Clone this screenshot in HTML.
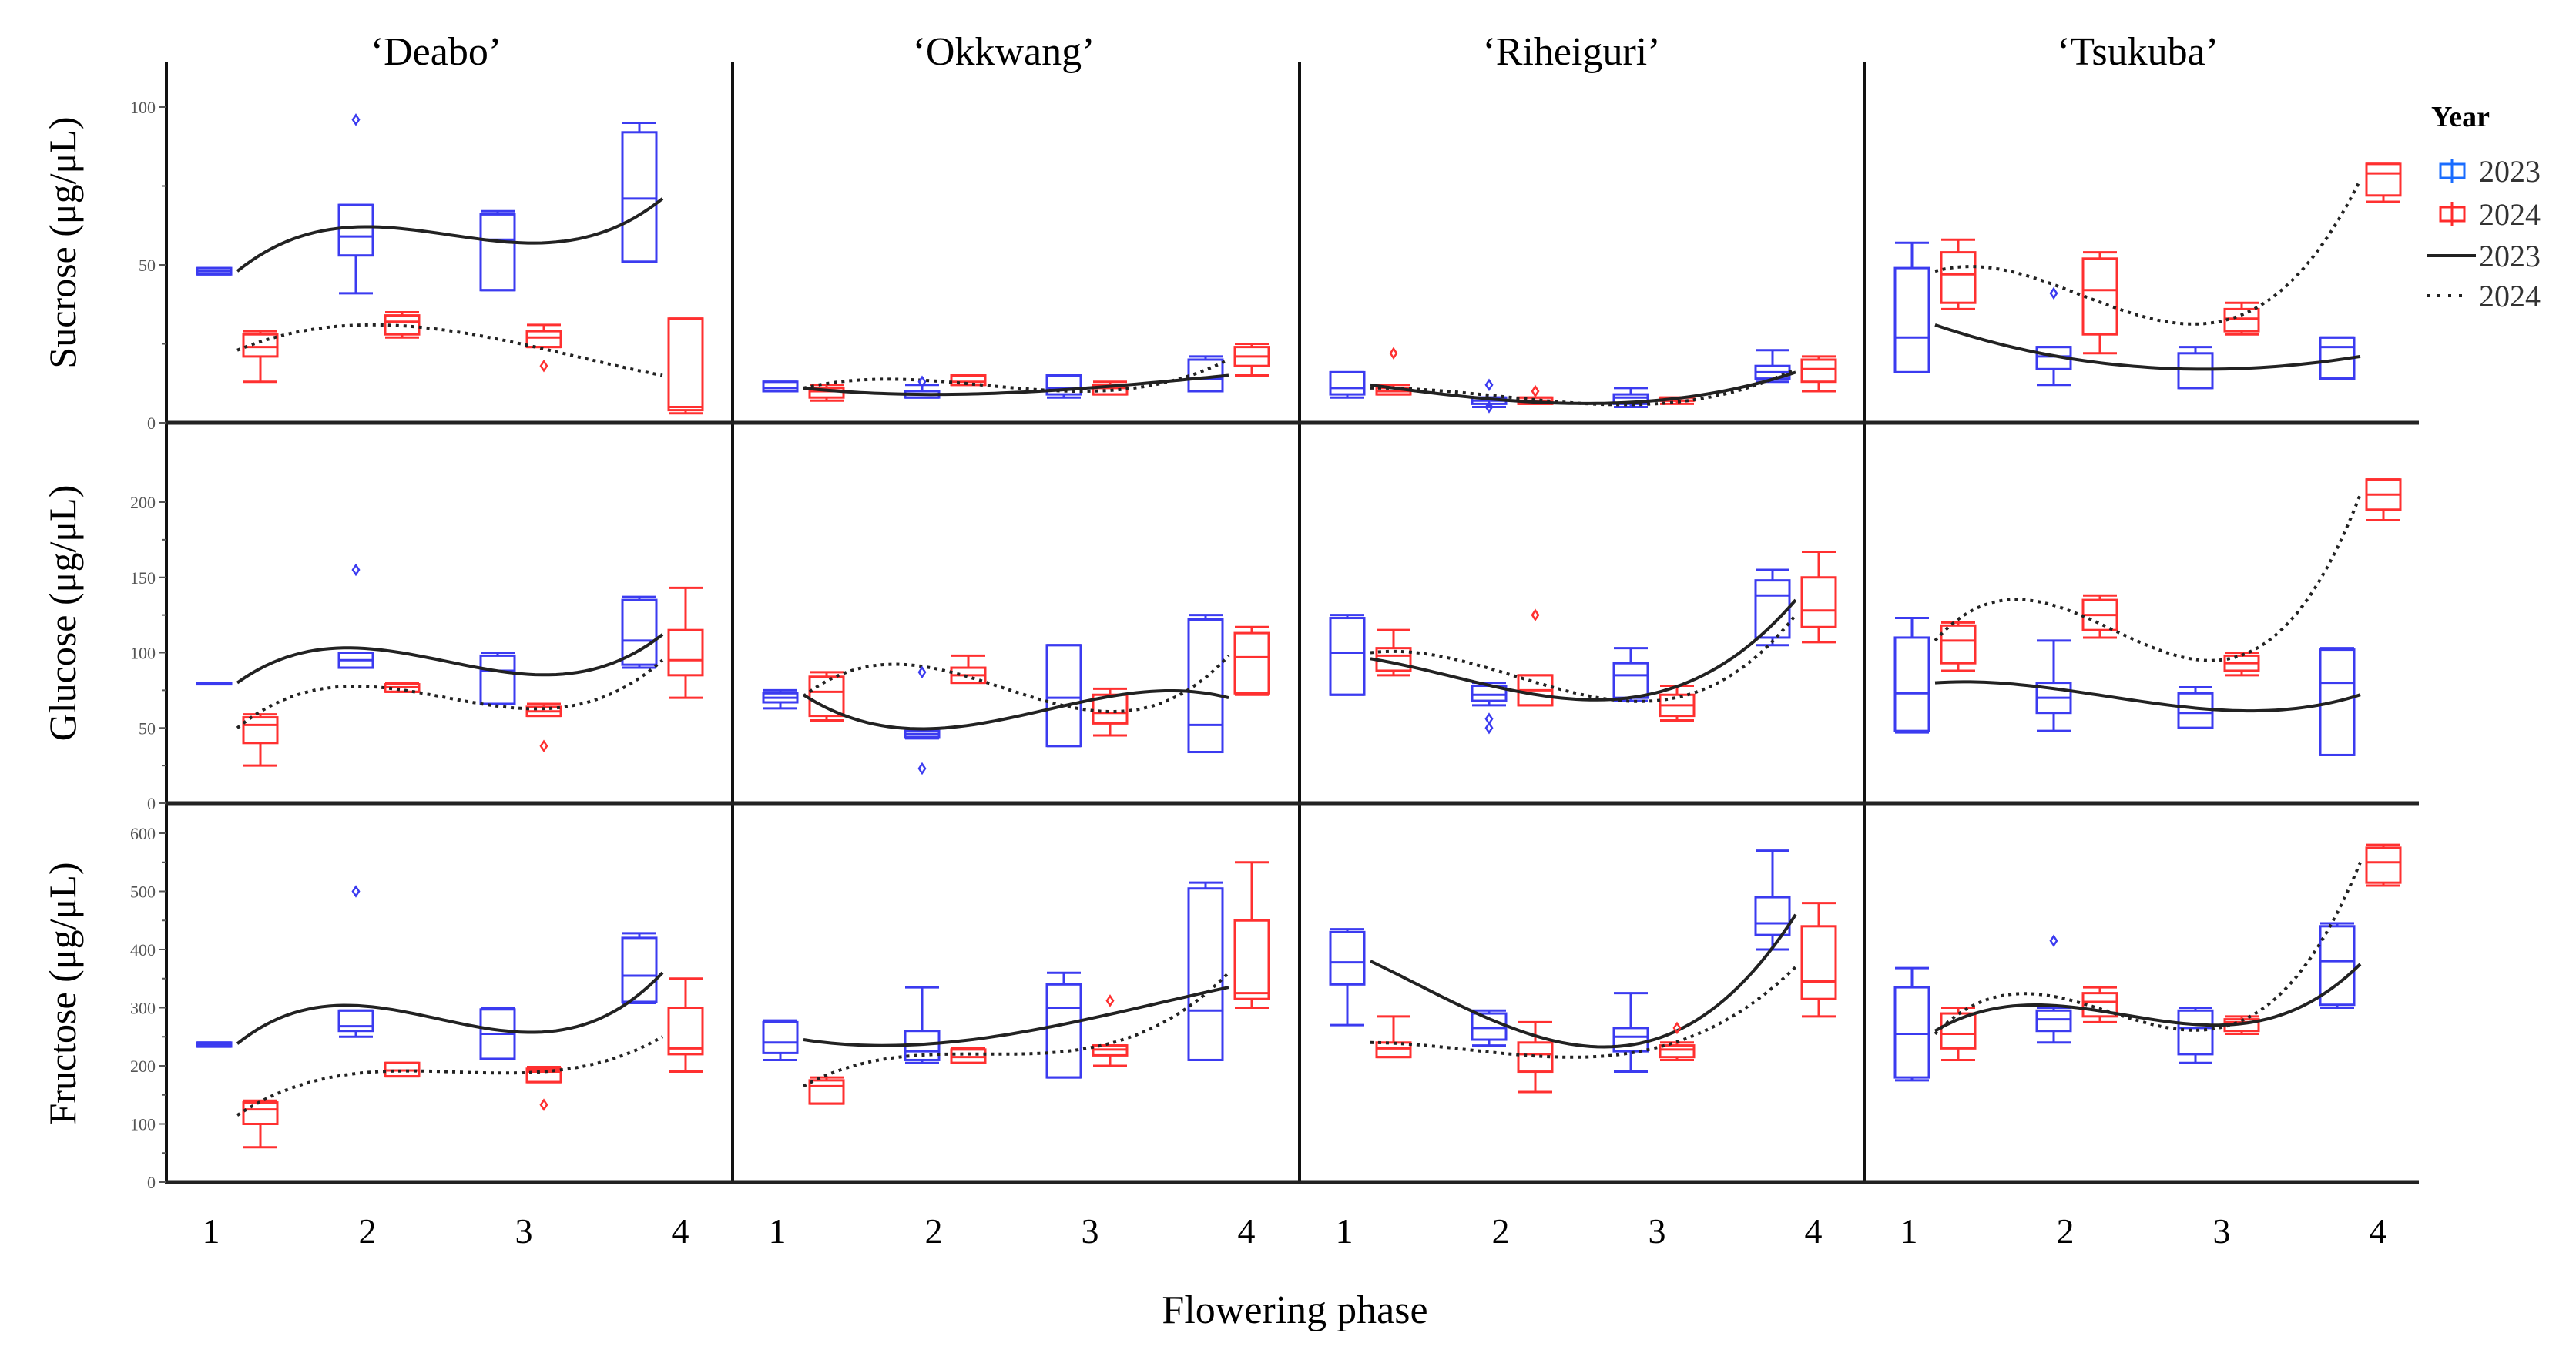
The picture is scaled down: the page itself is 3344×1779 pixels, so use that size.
<!DOCTYPE html>
<html><head><meta charset="utf-8"><style>
html,body{margin:0;padding:0;background:#fff;}
svg{display:block;font-family:"Liberation Serif",serif;}
</style></head><body>
<svg id="chart" width="3344" height="1779" viewBox="0 0 3344 1779" xmlns="http://www.w3.org/2000/svg">
<rect width="3344" height="1779" fill="#fff"/>
<g id="frame"></g>
<g id="marks"></g>
<text x="566" y="84" font-size="52" text-anchor="middle">‘Deabo’</text>
<text x="1303" y="84" font-size="52" text-anchor="middle">‘Okkwang’</text>
<text x="2040" y="84" font-size="52" text-anchor="middle">‘Riheiguri’</text>
<text x="2775" y="84" font-size="52" text-anchor="middle">‘Tsukuba’</text>
<text transform="translate(98,315) rotate(-90)" font-size="50" text-anchor="middle">Sucrose (μg/μL)</text>
<text transform="translate(98,796) rotate(-90)" font-size="50" text-anchor="middle">Glucose (μg/μL)</text>
<text transform="translate(98,1290) rotate(-90)" font-size="50" text-anchor="middle">Fructose (μg/μL)</text>
<text x="1681" y="1718" font-size="52" text-anchor="middle">Flowering phase</text>
<g>
<text x="3156" y="164" font-size="38" font-weight="bold">Year</text>
<g><line x1="3183" y1="206" x2="3183" y2="238" stroke="#1a6cff" stroke-width="3"/><rect x="3168" y="213" width="31" height="18" fill="none" stroke="#1a6cff" stroke-width="3"/><text x="3218" y="236" font-size="40" fill="#333">2023</text></g>
<g><line x1="3183" y1="262" x2="3183" y2="294" stroke="#ff2b2b" stroke-width="3"/><rect x="3168" y="269" width="31" height="18" fill="none" stroke="#ff2b2b" stroke-width="3"/><text x="3218" y="292" font-size="40" fill="#333">2024</text></g>
<g><line x1="3150" y1="332" x2="3214" y2="332" stroke="#222" stroke-width="4"/><text x="3218" y="346" font-size="40" fill="#333">2023</text></g>
<g><line x1="3150" y1="384" x2="3205" y2="384" stroke="#222" stroke-width="4" stroke-dasharray="4 10"/><text x="3218" y="398" font-size="40" fill="#333">2024</text></g>
</g>
</svg>
<script>
// ---- data: [whiskerLow, q1, median, q3, whiskerHigh] per phase ----
const phases = ["1","2","3","4"];
const cultivars = ["Deabo","Okkwang","Riheiguri","Tsukuba"];
const sucroseTicks = [0,50,100];
const glucoseTicks = [0,50,100,150,200];
const fructoseTicks = [0,100,200,300,400,500,600];

const sucDeabo23 = [[47,47,48,49,49],[41,53,59,69,69],[42,42,58,66,67],[51,51,71,92,95]];
const sucDeabo24 = [[13,21,24,28,29],[27,28,32,34,35],[24,24,27,29,31],[3,4,5,33,33]];
const sucOkkwang23 = [[10,10,11,13,13],[8,8,9,10,12],[8,9,11,15,15],[10,10,14,20,21]];
const sucOkkwang24 = [[7,8,10,11,12],[12,12,13,15,15],[9,9,11,12,13],[15,18,21,24,25]];
const sucRiheiguri23 = [[8,9,11,16,16],[5,6,7,8,8],[5,6,8,9,11],[13,14,16,18,23]];
const sucRiheiguri24 = [[9,9,10,11,12],[6,6,7,8,8],[6,7,7,8,8],[10,13,17,20,21]];
const sucTsukuba23 = [[16,16,27,49,57],[12,17,21,24,24],[11,11,17,22,24],[14,14,24,27,27]];
const sucTsukuba24 = [[36,38,47,54,58],[22,28,42,52,54],[28,29,33,36,38],[70,72,79,82,82]];

const gluDeabo23 = [[79,79,80,80,80],[90,90,95,100,100],[66,66,88,98,100],[90,92,108,135,137]];
const gluDeabo24 = [[25,40,52,57,59],[74,74,77,79,80],[58,58,61,64,66],[70,85,95,115,143]];
const gluOkkwang23 = [[63,67,70,73,75],[43,44,46,48,48],[38,38,70,105,105],[34,34,52,122,125]];
const gluOkkwang24 = [[55,58,74,84,87],[80,80,85,90,98],[45,53,60,72,76],[72,73,97,113,117]];
const gluRiheiguri23 = [[72,72,100,123,125],[65,68,72,78,80],[68,70,85,93,103],[105,110,138,148,155]];
const gluRiheiguri24 = [[85,88,98,103,115],[65,65,75,85,85],[55,58,65,72,78],[107,117,128,150,167]];
const gluTsukuba23 = [[47,48,73,110,123],[48,60,70,80,108],[50,50,60,73,77],[32,32,80,102,103]];
const gluTsukuba24 = [[88,93,108,118,120],[110,115,125,135,138],[85,88,93,98,100],[188,195,205,215,215]];

const fruDeabo23 = [[233,233,237,240,240],[250,260,268,295,295],[212,212,255,297,300],[308,310,355,420,428]];
const fruDeabo24 = [[60,100,125,137,140],[182,182,192,205,205],[172,172,190,195,198],[190,220,230,300,350]];
const fruOkkwang23 = [[210,222,240,275,278],[205,210,225,260,335],[180,180,300,340,360],[210,210,295,505,515]];
const fruOkkwang24 = [[135,135,165,175,180],[205,205,215,228,230],[200,218,228,235,235],[300,315,325,450,550]];
const fruRiheiguri23 = [[270,340,378,430,435],[235,245,265,290,295],[190,225,250,265,325],[400,425,445,490,570]];
const fruRiheiguri24 = [[215,215,230,240,285],[155,190,220,240,275],[210,215,228,235,240],[285,315,345,440,480]];
const fruTsukuba23 = [[175,180,255,335,368],[240,260,280,295,300],[205,220,265,295,300],[300,305,380,440,445]];
const fruTsukuba24 = [[210,230,255,290,300],[275,285,310,325,335],[255,260,275,280,285],[510,515,550,575,580]];

// trend-curve values at each phase
const sucFit23 = [[48,62,57,71],[11,9,11,15],[12,7,7,16],[31,20,17,21]];
const sucFit24 = [[23,31,25,15],[11,13,10,20],[11,8,6,17],[48,41,32,77]];
const gluFit23 = [[80,102,86,112],[72,50,68,70],[96,75,73,135],[80,74,62,72]];
const gluFit24 = [[50,77,63,95],[71,88,62,98],[100,85,68,125],[108,126,95,205]];
const fruFit23 = [[238,300,258,360],[245,240,280,335],[380,265,245,460],[260,300,270,375]];
const fruFit24 = [[115,190,188,250],[165,220,230,360],[240,220,230,370],[255,310,265,550]];

// outliers: [cultivarIndex, phaseIndex, yearIndex(0=2023,1=2024), value]
const sucOutliers = [[0,1,0,96],[0,2,1,18],[1,1,0,13],[2,0,1,22],[2,1,0,12],[2,1,0,5],[2,1,1,10],[3,1,0,41]];
const gluOutliers = [[0,1,0,155],[0,2,1,38],[1,1,0,87],[1,1,0,23],[2,1,0,56],[2,1,0,50],[2,1,1,125]];
const fruOutliers = [[0,1,0,500],[0,2,1,133],[1,2,1,312],[2,2,1,265],[3,1,0,415]];

// ---- layout ----
const NS = "http://www.w3.org/2000/svg";
const panelL = [216,951,1687,2420];
const plotRight = 3140, plotTop = 81;
const rowsCfg = [
  {name:"sucrose", y0:549, k:4.1, ticks:sucroseTicks, b23:[sucDeabo23,sucOkkwang23,sucRiheiguri23,sucTsukuba23], b24:[sucDeabo24,sucOkkwang24,sucRiheiguri24,sucTsukuba24], f23:sucFit23, f24:sucFit24, out:sucOutliers},
  {name:"glucose", y0:1043, k:1.955, ticks:glucoseTicks, b23:[gluDeabo23,gluOkkwang23,gluRiheiguri23,gluTsukuba23], b24:[gluDeabo24,gluOkkwang24,gluRiheiguri24,gluTsukuba24], f23:gluFit23, f24:gluFit24, out:gluOutliers},
  {name:"fructose", y0:1535, k:0.755, ticks:fructoseTicks, b23:[fruDeabo23,fruOkkwang23,fruRiheiguri23,fruTsukuba23], b24:[fruDeabo24,fruOkkwang24,fruRiheiguri24,fruTsukuba24], f23:fruFit23, f24:fruFit24, out:fruOutliers}
];
const BLUE="#3b3bf0", RED="#ff3030";
function xCenter(c,i){return panelL[c]+92+i*184;}
function yScale(r,v){return r.y0 - r.k*v;}
function mk(tag,attrs,parent){const e=document.createElementNS(NS,tag);for(const a in attrs)e.setAttribute(a,attrs[a]);parent.appendChild(e);return e;}

const frame=document.getElementById("frame");
const marks=document.getElementById("marks");

// panel vertical lines
panelL.forEach((x,c)=>{
  const l=mk("line",{x1:x,y1:plotTop,x2:x,y2:1537,stroke:"#111","stroke-width":c===0?4:4},frame);
  
  
});
rowsCfg.forEach((r)=>{
  const h=mk("line",{x1:214,y1:r.y0,x2:plotRight,y2:r.y0,stroke:"#222","stroke-width":5},frame);
  
  
  const maxT=r.ticks[r.ticks.length-1];
  r.ticks.forEach((t,ti)=>{
    const y=yScale(r,t);
    const tk=mk("line",{x1:206,y1:y,x2:216,y2:y,stroke:"#555","stroke-width":2},frame);
    
    
    const tl=mk("text",{x:202,y:y+8,"font-size":22,"text-anchor":"end",fill:"#555"},frame);
    tl.textContent=t;
    
    
    if(ti<r.ticks.length-1){
      const ym=yScale(r,(t+r.ticks[ti+1])/2);
      const mt=mk("line",{x1:210,y1:ym,x2:216,y2:ym,stroke:"#555","stroke-width":2},frame);
      
      
    }
  });
});
// x tick labels
panelL.forEach((L,c)=>{
  phases.forEach((p,i)=>{
    const t=mk("text",{x:L+58+i*203,y:1614,"font-size":46,"text-anchor":"middle"},frame);
    t.textContent=p;
    
    
  });
});

function drawBox(r,c,i,s,color,dx,name){
  const x=xCenter(c,i)+dx, w=44, g=mk("g",{},marks);
  
  
  const [lo,q1,md,q3,hi]=s;
  const att={stroke:color,"stroke-width":3,fill:"none"};
  mk("line",Object.assign({x1:x,y1:yScale(r,hi),x2:x,y2:yScale(r,q3)},att),g);
  mk("line",Object.assign({x1:x,y1:yScale(r,q1),x2:x,y2:yScale(r,lo)},att),g);
  mk("line",Object.assign({x1:x-w/2,y1:yScale(r,hi),x2:x+w/2,y2:yScale(r,hi)},att),g);
  mk("line",Object.assign({x1:x-w/2,y1:yScale(r,lo),x2:x+w/2,y2:yScale(r,lo)},att),g);
  mk("rect",Object.assign({x:x-w/2,y:yScale(r,q3),width:w,height:Math.max(2,yScale(r,q1)-yScale(r,q3))},att),g);
  mk("line",Object.assign({x1:x-w/2,y1:yScale(r,md),x2:x+w/2,y2:yScale(r,md)},att),g);
}
function cubic(vals,t){ // Lagrange through nodes 0..3
  let s=0;
  for(let j=0;j<4;j++){let p=1;for(let m=0;m<4;m++){if(m!==j)p*=(t-m)/(j-m);}s+=vals[j]*p;}
  return s;
}
function drawFit(r,c,vals,dashed,name){
  let d="";
  for(let n=0;n<=60;n++){const t=n/20;const x=xCenter(c,0)+t*184;const y=yScale(r,cubic(vals,t));d+=(n?"L":"M")+x.toFixed(1)+","+y.toFixed(1);}
  const p=mk("path",{d:d,fill:"none",stroke:"#222","stroke-width":dashed?4:4},marks);
  if(dashed){p.setAttribute("stroke-dasharray","4 6");}
  
  
}
rowsCfg.forEach(r=>{
  cultivars.forEach((cv,c)=>{
    phases.forEach((p,i)=>{
      drawBox(r,c,i,r.b23[c][i],BLUE,-30,r.name+"-box-2023-"+cv.toLowerCase()+"-phase"+p);
      drawBox(r,c,i,r.b24[c][i],RED,30,r.name+"-box-2024-"+cv.toLowerCase()+"-phase"+p);
    });
    drawFit(r,c,r.f23[c],false,r.name+"-trend-2023-"+cv.toLowerCase());
    drawFit(r,c,r.f24[c],true,r.name+"-trend-2024-"+cv.toLowerCase());
  });
  r.out.forEach(o=>{
    const x=xCenter(o[0],o[1])+(o[2]?30:-30), y=yScale(r,o[3]);
    const m=mk("path",{d:`M${x},${y-6}L${x+4},${y}L${x},${y+6}L${x-4},${y}Z`,fill:"none",stroke:o[2]?RED:BLUE,"stroke-width":2.5},marks);
    
    
  });
});
</script>
</body></html>
